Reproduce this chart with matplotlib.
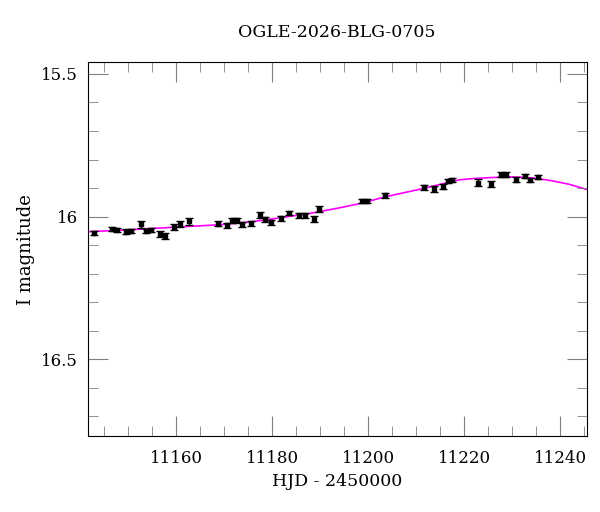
import numpy as np
import matplotlib
matplotlib.use("Agg")
import matplotlib.pyplot as plt
from matplotlib.ticker import MultipleLocator

# photometry
hjd = [11142.83, 11146.71, 11147.75, 11149.62, 11150.72, 11152.65, 11153.77,
       11154.81, 11156.68, 11157.78, 11159.58, 11160.75, 11162.62, 11168.78,
       11170.59, 11171.63, 11172.67, 11173.77, 11175.57, 11177.50, 11178.60,
       11179.73, 11181.80, 11183.59, 11185.54, 11186.79, 11188.65, 11189.69,
       11198.62, 11199.72, 11203.60, 11211.62, 11213.78, 11215.56, 11216.60,
       11217.43, 11222.83, 11225.61, 11227.61, 11228.65, 11230.81, 11232.67,
       11233.71, 11235.37]
mag = [16.058, 16.044, 16.047, 16.053, 16.050, 16.027, 16.051, 16.047, 16.060,
       16.069, 16.037, 16.026, 16.017, 16.025, 16.031, 16.013, 16.013, 16.027,
       16.024, 15.995, 16.010, 16.020, 16.006, 15.987, 15.996, 15.996, 16.008,
       15.973, 15.945, 15.945, 15.926, 15.898, 15.904, 15.895, 15.876, 15.872,
       15.882, 15.886, 15.853, 15.853, 15.871, 15.858, 15.872, 15.862]
err = [0.008, 0.008, 0.008, 0.008, 0.008, 0.012, 0.008, 0.008, 0.010, 0.010,
       0.010, 0.010, 0.012, 0.008, 0.010, 0.008, 0.008, 0.008, 0.008, 0.010,
       0.008, 0.008, 0.008, 0.008, 0.008, 0.008, 0.010, 0.010, 0.008, 0.008,
       0.008, 0.008, 0.010, 0.008, 0.008, 0.008, 0.012, 0.012, 0.008, 0.008,
       0.008, 0.008, 0.008, 0.008]

# model curve samples
model_t = [11141.6, 11148.45, 11154.66, 11168.78, 11175.43, 11180.97, 11187.89,
           11194.12, 11198.68, 11203.46, 11211.62, 11215.5, 11219.03, 11222.5,
           11225.95, 11229.42, 11232.2, 11234.96, 11238.4, 11241.87, 11245.5]
model_m = [16.053, 16.048, 16.042, 16.029, 16.019, 16.006, 15.989, 15.969,
           15.953, 15.931, 15.901, 15.885, 15.871, 15.866, 15.863, 15.861,
           15.862, 15.866, 15.875, 15.887, 15.905]

plt.rcParams["font.family"] = "DejaVu Serif"

fig = plt.figure(figsize=(6, 5.12), dpi=100)
ax = fig.add_axes([0.146, 0.148, 0.832, 0.731])

ax.plot(model_t, model_m, color="#ff00ff", lw=1.2, zorder=1)
ax.errorbar(hjd, mag, yerr=err, fmt="s", color="black", ms=3.4, capsize=2.8,
            elinewidth=1, capthick=1, zorder=2)

ax.set_xlim(11141.6, 11245.5)
ax.set_ylim(16.77, 15.458)

ax.xaxis.set_major_locator(MultipleLocator(20))
ax.xaxis.set_minor_locator(MultipleLocator(5))
ax.yaxis.set_major_locator(MultipleLocator(0.5))
ax.yaxis.set_minor_locator(MultipleLocator(0.1))
ax.yaxis.set_major_formatter(plt.FuncFormatter(lambda v, p: f"{v:g}"))

ax.tick_params(which="both", direction="in", top=True, right=True,
               color="#808080", labelsize=12)
ax.tick_params(which="major", length=14.4)
ax.tick_params(which="minor", length=7.2)
ax.tick_params(axis="x", pad=10)
ax.tick_params(axis="y", pad=7)

ax.set_title("OGLE-2026-BLG-0705", fontsize=12.5, pad=18)
ax.set_xlabel("HJD - 2450000", fontsize=12.5)
ax.set_ylabel("I magnitude", fontsize=13)

fig.savefig("out.png", dpi=100)
